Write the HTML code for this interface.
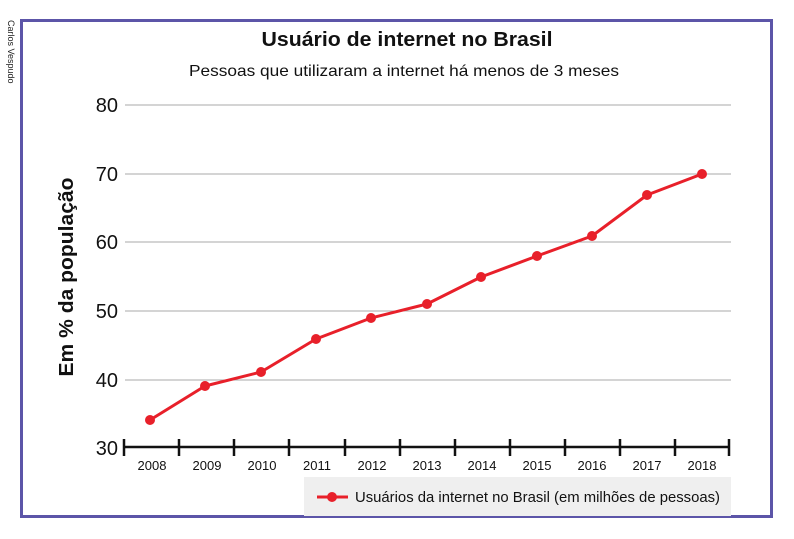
<!DOCTYPE html>
<html><head><meta charset="utf-8"><style>
html,body{margin:0;padding:0;background:#fff;}
svg{display:block;font-family:"Liberation Sans",sans-serif;}
</style></head><body>
<svg width="794" height="539" viewBox="0 0 794 539">
<rect x="21.5" y="20.5" width="750" height="496" fill="none" stroke="#5c55a8" stroke-width="3"/>
<text transform="translate(8,20) rotate(90)" font-size="9" fill="#222">Carlos Vespudo</text>
<text x="407" y="46" text-anchor="middle" font-size="20.5" font-weight="bold" fill="#111" textLength="291" lengthAdjust="spacingAndGlyphs">Usuário de internet no Brasil</text>
<text x="404" y="76" text-anchor="middle" font-size="16" fill="#111" textLength="430" lengthAdjust="spacingAndGlyphs">Pessoas que utilizaram a internet há menos de 3 meses</text>
<g stroke="#aaa" stroke-width="1">
<line x1="125" y1="105" x2="731" y2="105"/>
<line x1="125" y1="174" x2="731" y2="174"/>
<line x1="125" y1="242" x2="731" y2="242"/>
<line x1="125" y1="311" x2="731" y2="311"/>
<line x1="125" y1="380" x2="731" y2="380"/>
</g>
<g font-size="20" fill="#111" text-anchor="end">
<text x="118" y="112">80</text><text x="118" y="181">70</text><text x="118" y="249">60</text>
<text x="118" y="318">50</text><text x="118" y="387">40</text><text x="118" y="455">30</text>
</g>
<text transform="translate(73,277) rotate(-90)" text-anchor="middle" font-size="20.5" font-weight="bold" fill="#111" textLength="199" lengthAdjust="spacingAndGlyphs">Em % da população</text>
<line x1="123" y1="447" x2="730" y2="447" stroke="#111" stroke-width="2.5"/>
<g stroke="#111" stroke-width="2.5">
<line x1="124" y1="439" x2="124" y2="456"/><line x1="179" y1="439" x2="179" y2="456"/>
<line x1="234" y1="439" x2="234" y2="456"/><line x1="289" y1="439" x2="289" y2="456"/>
<line x1="345" y1="439" x2="345" y2="456"/><line x1="400" y1="439" x2="400" y2="456"/>
<line x1="455" y1="439" x2="455" y2="456"/><line x1="510" y1="439" x2="510" y2="456"/>
<line x1="565" y1="439" x2="565" y2="456"/><line x1="620" y1="439" x2="620" y2="456"/>
<line x1="675" y1="439" x2="675" y2="456"/><line x1="729" y1="439" x2="729" y2="456"/>
</g>
<g font-size="13" fill="#111" text-anchor="middle">
<text x="152" y="470">2008</text><text x="207" y="470">2009</text><text x="262" y="470">2010</text>
<text x="317" y="470">2011</text><text x="372" y="470">2012</text><text x="427" y="470">2013</text>
<text x="482" y="470">2014</text><text x="537" y="470">2015</text><text x="592" y="470">2016</text>
<text x="647" y="470">2017</text><text x="702" y="470">2018</text>
</g>
<polyline fill="none" stroke="#e8202a" stroke-width="3" stroke-linejoin="round" points="150,420 205,386 261,372 316,339 371,318 427,304 481,277 537,256 592,236 647,195 702,174"/>
<g fill="#e8202a">
<circle cx="150" cy="420" r="5"/><circle cx="205" cy="386" r="5"/><circle cx="261" cy="372" r="5"/>
<circle cx="316" cy="339" r="5"/><circle cx="371" cy="318" r="5"/><circle cx="427" cy="304" r="5"/>
<circle cx="481" cy="277" r="5"/><circle cx="537" cy="256" r="5"/><circle cx="592" cy="236" r="5"/>
<circle cx="647" cy="195" r="5"/><circle cx="702" cy="174" r="5"/>
</g>
<rect x="304" y="477" width="427" height="39" fill="#efefef"/>
<line x1="317" y1="497" x2="348" y2="497" stroke="#e8202a" stroke-width="3"/>
<circle cx="332" cy="497" r="5" fill="#e8202a"/>
<text x="355" y="502" font-size="15" fill="#111" textLength="365" lengthAdjust="spacingAndGlyphs">Usuários da internet no Brasil (em milhões de pessoas)</text>
</svg>
</body></html>
